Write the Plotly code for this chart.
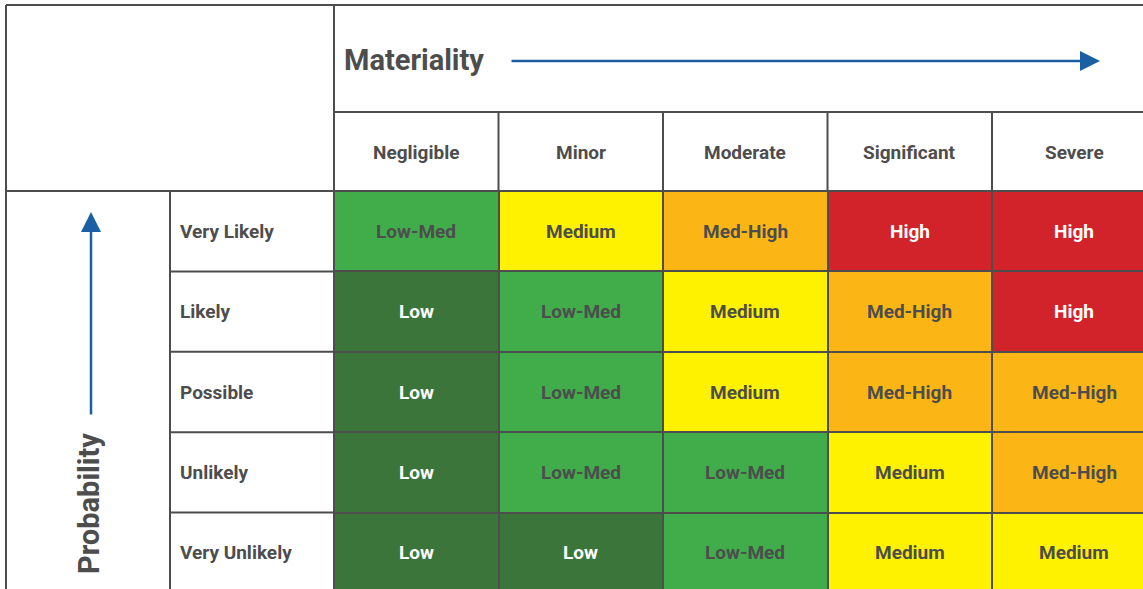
import plotly.graph_objects as go

W, H = 1143, 589

columns = ["Negligible", "Minor", "Moderate", "Significant", "Severe"]
rows = ["Very Likely", "Likely", "Possible", "Unlikely", "Very Unlikely"]
levels = ["Low", "Low-Med", "Medium", "Med-High", "High"]
level_colors = ["#3b7539", "#40ac4a", "#fff200", "#fbb616", "#d2232a"]
level_text_colors = ["#ffffff", "#4d4d4d", "#4d4d4d", "#4d4d4d", "#ffffff"]
ratings = [
    ["Low-Med", "Medium", "Med-High", "High", "High"],
    ["Low", "Low-Med", "Medium", "Med-High", "High"],
    ["Low", "Low-Med", "Medium", "Med-High", "Med-High"],
    ["Low", "Low-Med", "Low-Med", "Medium", "Med-High"],
    ["Low", "Low", "Low-Med", "Medium", "Medium"],
]
x_title = "Materiality"
y_title = "Probability"

GRID = "#4d4d4d"
TXT = "#4d4d4d"
BLUE = "#1a5fa3"
FONT = "Roboto"


def px(x):
    return x / W


def py(y):
    return 1 - y / H


z = [[levels.index(r) for r in row] for row in ratings]
n = len(levels)
colorscale = []
for i, c in enumerate(level_colors):
    colorscale.append([i / n, c])
    colorscale.append([(i + 1) / n, c])

fig = go.Figure()
fig.add_trace(go.Heatmap(
    z=z, x=columns, y=rows, zmin=0, zmax=n - 1,
    colorscale=colorscale, showscale=False, xgap=2, ygap=2,
    hoverinfo="skip",
))

annotations = []
for r, row in enumerate(ratings):
    for c, val in enumerate(row):
        annotations.append(dict(
            x=columns[c], xref="x", y=rows[r], yref="y", text=val, showarrow=False,
            font=dict(family=FONT, size=19, color=level_text_colors[levels.index(val)], weight=700),
            xanchor="center", yanchor="middle"))

shapes = []
line = dict(color=GRID, width=2)
# outer structure
shapes.append(dict(type="line", xref="paper", yref="paper", x0=px(6), x1=1, y0=py(5), y1=py(5), line=line))
shapes.append(dict(type="line", xref="paper", yref="paper", x0=px(6), x1=px(6), y0=py(5), y1=0, line=line))
shapes.append(dict(type="line", xref="paper", yref="paper", x0=px(334), x1=px(334), y0=py(5), y1=0, line=line))
shapes.append(dict(type="line", xref="paper", yref="paper", x0=px(334), x1=1, y0=py(112), y1=py(112), line=line))
shapes.append(dict(type="line", xref="paper", yref="paper", x0=px(6), x1=1, y0=py(191), y1=py(191), line=line))
shapes.append(dict(type="line", xref="paper", yref="paper", x0=px(170), x1=px(170), y0=py(191), y1=0, line=line))
# header column separators
for i in range(len(columns) - 1):
    shapes.append(dict(type="line", xref="x", yref="paper", x0=i + 0.5, x1=i + 0.5,
                       y0=py(112), y1=py(191), line=line))
# row label separators
for i in range(len(rows) - 1):
    shapes.append(dict(type="line", xref="paper", yref="y", x0=px(170), x1=px(334),
                       y0=i + 0.5, y1=i + 0.5, line=line))

for c in columns:
    annotations.append(dict(x=c, xref="x", y=py(152), yref="paper", text=c, showarrow=False,
                            font=dict(family=FONT, size=19, color=TXT, weight=700),
                            xanchor="center", yanchor="middle"))
for r in rows:
    annotations.append(dict(x=px(178), xref="paper", y=r, yref="y", text=r, showarrow=False,
                            font=dict(family=FONT, size=19, color=TXT, weight=700),
                            xanchor="left", yanchor="middle"))
annotations.append(dict(x=px(342), xref="paper", y=py(60), yref="paper", text=x_title, showarrow=False,
                        font=dict(family=FONT, size=29, color=TXT, weight=700),
                        xanchor="left", yanchor="middle"))
annotations.append(dict(x=px(89), xref="paper", y=py(504), yref="paper", text=y_title, showarrow=False,
                        textangle=-90,
                        font=dict(family=FONT, size=29, color=TXT, weight=700),
                        xanchor="center", yanchor="middle"))
# arrows
annotations.append(dict(x=px(1100), xref="paper", y=py(61), yref="paper", text="",
                        showarrow=True, ax=-(1100 - 510), ay=0, axref="pixel", ayref="pixel",
                        arrowhead=2, arrowsize=1.6, arrowwidth=2.5, arrowcolor=BLUE, standoff=0))
annotations.append(dict(x=px(91), xref="paper", y=py(212), yref="paper", text="",
                        showarrow=True, ax=0, ay=416 - 212, axref="pixel", ayref="pixel",
                        arrowhead=2, arrowsize=1.6, arrowwidth=2.5, arrowcolor=BLUE, standoff=0))

fig.update_layout(
    width=W, height=H,
    margin=dict(l=0, r=0, t=0, b=0),
    paper_bgcolor="white", plot_bgcolor=GRID,
    xaxis=dict(domain=[px(334), 1], range=[-0.5, -0.5 + (W - 334) / 164.5],
               showgrid=False, zeroline=False, showticklabels=False, ticks="", fixedrange=True),
    yaxis=dict(domain=[0, py(191)], range=[-0.5 + (H - 191) / 80.4, -0.5],
               showgrid=False, zeroline=False, showticklabels=False, ticks="", fixedrange=True),
    shapes=shapes, annotations=annotations, showlegend=False,
)

fig.write_html("out.html", config={"displayModeBar": False})
